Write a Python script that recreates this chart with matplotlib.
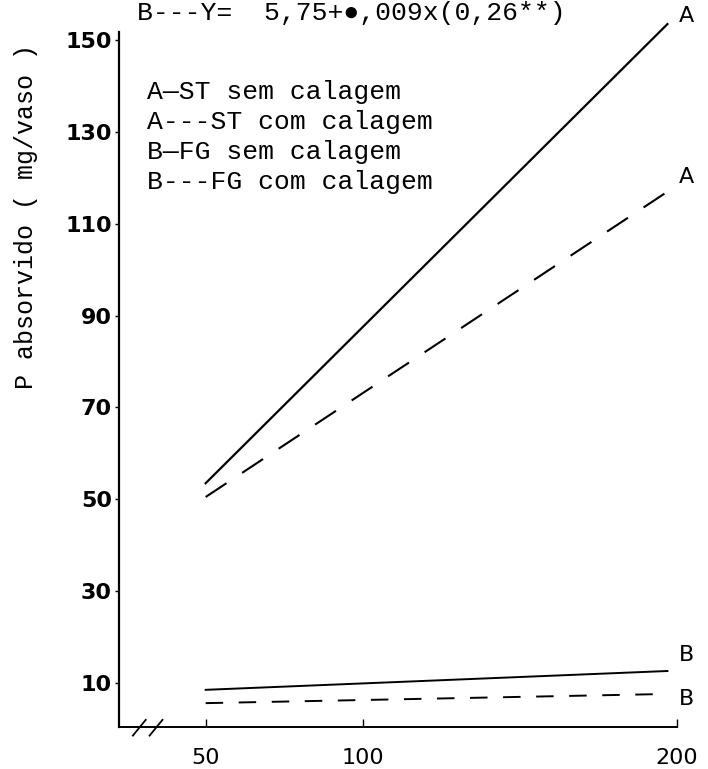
import matplotlib.pyplot as plt

# dose de P (eixo x) e P absorvido (mg/vaso)
dose = [50, 197]
st_sem = [53.5, 153.5]
st_com = [50.5, 117.0]
fg_sem = [8.5, 12.6]
fg_com = [5.6, 7.6]

yticks = [10, 30, 50, 70, 90, 110, 130, 150]
xticks = [50, 100, 200]

legend_lines = ['A\u2014ST sem calagem', 'A---ST com calagem',
                'B\u2014FG sem calagem', 'B---FG com calagem']

fig = plt.figure(figsize=(7.08, 7.69), dpi=100)
ax = fig.add_axes([0.168, 0.0546, 0.788, 0.929])

ax.plot(dose, st_sem, color='black', linewidth=1.6, clip_on=False)
ax.plot(dose, st_com, color='black', linewidth=1.5, dashes=(12, 9), clip_on=False)
ax.plot(dose, fg_sem, color='black', linewidth=1.4, clip_on=False)
ax.plot(dose, fg_com, color='black', linewidth=1.4, dashes=(9, 8), clip_on=False)

# rotulos das curvas
ax.text(203, st_sem[1] - 0.5, 'A', fontsize=16, ha='center', va='bottom')
ax.text(203, st_com[1] + 1.0, 'A', fontsize=16, ha='center', va='bottom')
ax.text(203, fg_sem[1] + 1.2, 'B', fontsize=16, ha='center', va='bottom')
ax.text(203, fg_com[1] - 1.2, 'B', fontsize=16, ha='center', va='center')

ax.set_xlim(22.4, 200)
ax.set_ylim(0.4, 156)
ax.spines['left'].set_bounds(0.4, 151.7)
ax.spines['top'].set_visible(False)
ax.spines['right'].set_visible(False)
ax.spines['left'].set_linewidth(1.6)
ax.spines['bottom'].set_linewidth(1.4)

ax.set_yticks(yticks)
ax.set_yticklabels([str(v) for v in yticks], fontsize=16, fontweight='bold')
ax.set_xticks(xticks)
ax.set_xticklabels([str(v) for v in xticks], fontsize=16)
ax.tick_params(axis='y', direction='out', length=3, width=1, pad=2)
ax.tick_params(axis='x', direction='in', length=6, width=1, pad=15)

ax.set_ylabel('P absorvido ( mg/vaso )', family='Liberation Mono', fontsize=18)
ax.yaxis.set_label_coords(-0.145, 0.715)

# quebra do eixo x
ax.plot([0.025, 0.048], [-0.012, 0.01], transform=ax.transAxes, color='black',
        linewidth=1.3, clip_on=False)
ax.plot([0.055, 0.078], [-0.012, 0.01], transform=ax.transAxes, color='black',
        linewidth=1.3, clip_on=False)

# legenda em texto
for i, s in enumerate(legend_lines):
    fig.text(0.207, 0.880 - i * 0.039, s, family='Liberation Mono',
             fontsize=19, va='center', ha='left')

fig.text(0.193, 0.983, 'B---Y=  5,75+\u25cf,009x(0,26**)',
         family=['Liberation Mono', 'DejaVu Sans'], fontsize=19,
         va='center', ha='left')

fig.savefig('out.png', dpi=100)
